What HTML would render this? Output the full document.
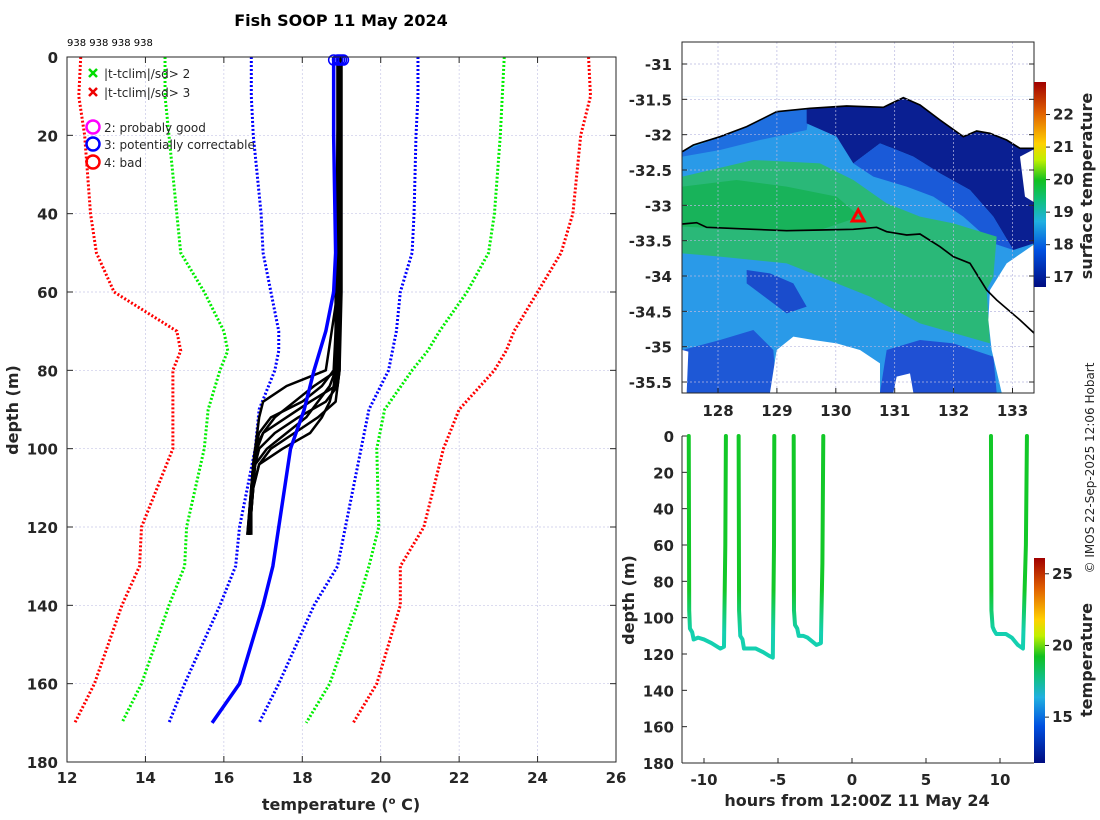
<!DOCTYPE html>
<html><head><meta charset="utf-8">
<style>
html,body{margin:0;padding:0;background:#fff;}
svg{display:block;font-family:"DejaVu Sans","Liberation Sans",sans-serif;}
.tk{font-size:15px;font-weight:bold;fill:#262626;}
.lab{font-size:16px;font-weight:bold;fill:#262626;}
.leg{font-size:12px;fill:#262626;}
</style></head>
<body>
<svg id="fig" width="1100" height="820" viewBox="0 0 1100 820">
<defs>
  <linearGradient id="jet1" x1="0" y1="1" x2="0" y2="0">
    <stop offset="0" stop-color="#000c80"/><stop offset="0.18" stop-color="#0050e0"/>
    <stop offset="0.32" stop-color="#20b0e0"/><stop offset="0.42" stop-color="#10c080"/>
    <stop offset="0.52" stop-color="#10c020"/><stop offset="0.62" stop-color="#c0f000"/>
    <stop offset="0.70" stop-color="#ffd000"/><stop offset="0.85" stop-color="#e06000"/>
    <stop offset="1" stop-color="#a00000"/>
  </linearGradient>
  <clipPath id="mapclip"><rect x="682" y="42" width="352" height="351"/></clipPath>
  <clipPath id="leftclip"><rect x="67" y="57" width="549" height="705"/></clipPath>
</defs>

<text x="341" y="26" text-anchor="middle" style="font-size:16px;font-weight:bold">Fish SOOP 11 May 2024</text>
<text x="67" y="46" style="font-size:10px">938 938 938 938</text>

<g id="left"></g>

<g id="map">
  <g clip-path="url(#mapclip)">
    <g transform="translate(620,30) scale(0.33333)">
      <rect x="187" y="200" width="1060" height="900" fill="#2a9ae8"/>
      <polygon fill="#1f6fe0" points="187,365 300,320 470,245 570,235 560,300 420,330 300,360 187,380"/>
      <polygon fill="#1e58d6" points="187,960 300,930 400,900 460,960 470,1088 187,1088"/>
      <polygon fill="#1a4ccc" points="380,720 450,730 520,760 560,830 500,850 420,790 380,760"/>
      <polygon fill="#1f50d4" points="780,1088 800,960 900,930 1000,940 1120,980 1130,1088"/>
      <polygon fill="#0a1f92" points="560,235 680,228 790,232 850,203 900,225 960,270 1030,320 1070,303 1110,310 1160,330 1200,355 1243,355 1243,640 1180,660 1120,560 1050,480 960,430 880,380 780,340 700,400 650,320 560,280"/>
      <polygon fill="#1a5ad8" points="700,400 780,340 880,380 960,430 1050,480 1120,560 1180,660 1120,640 1030,560 940,500 860,470 760,440"/>
      <polygon fill="#2ab878" points="187,440 400,390 600,400 700,450 800,520 900,560 1000,580 1130,620 1120,740 1100,780 1110,940 900,880 750,800 600,740 500,700 300,680 187,670"/>
      <polygon fill="#18b35a" points="187,470 350,450 500,470 650,500 720,560 600,600 400,600 187,590"/>
      <polygon fill="#fff" points="187,200 1247,200 1247,355 1200,355 1160,330 1110,310 1070,303 1030,320 960,270 900,225 850,203 790,232 680,228 570,235 470,245 380,290 300,320 220,345 187,365"/>
      <polygon fill="#fff" points="1247,355 1200,380 1215,500 1247,520"/>
      <polygon fill="#fff" points="1247,640 1160,700 1110,780 1105,870 1115,960 1145,1088 1247,1088"/>
      <polygon fill="#fff" points="450,1088 470,960 520,920 580,930 650,940 720,960 780,1000 780,1088"/>
      <polygon fill="#fff" points="820,1088 830,1040 870,1030 880,1088"/>
      <polygon fill="#fff" points="187,960 205,965 200,1088 187,1088"/>
      <polyline fill="none" stroke="#000" stroke-width="5" points="187,365 220,345 300,320 380,290 470,245 570,235 680,228 790,232 850,203 900,225 960,270 1030,320 1070,303 1110,310 1160,330 1200,355 1243,355"/>
      <polyline fill="none" stroke="#000" stroke-width="5" points="187,582 230,578 260,592 400,598 500,602 600,600 700,598 770,592 800,605 860,615 900,612 960,650 1000,680 1050,700 1100,780 1130,810 1200,870 1243,910"/>
    </g>
  </g>
</g>

<g id="br"></g>

<text transform="translate(1094,468) rotate(-90)" text-anchor="middle" style="font-size:12px;fill:#262626">© IMOS 22-Sep-2025 12:06 Hobart</text>
</svg>

<script>
// ===== LEFT PANEL DATA =====
const depthTicks = [0,20,40,60,80,100,120,140,160,180];
const tempTicks = [12,14,16,18,20,22,24,26];
const climDepths = [0,10,20,40,50,60,70,75,80,90,100,120,130,140,160,170];
const redLeft   = [12.35,12.3,12.45,12.6,12.75,13.2,14.8,14.9,14.7,14.7,14.7,13.9,13.85,13.4,12.7,12.2];
const greenLeft = [14.5,14.5,14.6,14.8,14.9,15.5,16.0,16.1,15.9,15.6,15.5,15.05,15.0,14.6,13.9,13.4];
const blueLeft  = [16.7,16.7,16.75,16.95,17.0,17.2,17.4,17.4,17.3,16.9,16.8,16.4,16.3,15.9,15.0,14.6];
const blueRight = [20.95,20.95,20.9,20.85,20.8,20.5,20.4,20.3,20.2,19.7,19.5,19.1,18.9,18.3,17.4,16.9];
const greenRight= [23.15,23.1,23.05,22.9,22.75,22.2,21.5,21.2,20.8,20.1,19.9,19.95,19.7,19.4,18.7,18.1];
const redRight  = [25.3,25.35,25.1,24.9,24.6,24.0,23.4,23.2,22.9,22.0,21.6,21.1,20.5,20.5,19.9,19.3];
const blueProfDepths = [0,20,50,60,70,80,90,100,110,120,130,140,150,160,170];
const blueProfTemps  = [18.8,18.8,18.85,18.8,18.6,18.3,18.05,17.7,17.55,17.4,17.25,17.0,16.7,16.4,15.7];
const blackDepths = [0,20,60,80,84,88,92,96,100,104,110,116,122];
const blackProfiles = [
  [19.0,18.95,18.95,18.9,18.85,18.2,17.6,17.0,16.8,16.75,16.7,16.65,16.65],
  [18.95,18.9,18.9,18.9,18.3,17.8,17.3,17.0,16.85,16.8,16.7,16.65,16.6],
  [19.0,18.95,18.95,18.95,18.9,18.85,18.4,17.8,17.2,16.9,16.75,16.7,16.65],
  [18.9,18.9,18.9,18.6,17.6,17.0,16.9,16.85,16.8,16.75,16.7,16.7,16.65],
  [19.0,19.0,19.0,18.95,18.9,18.6,17.9,17.3,16.9,16.8,16.75,16.7,16.7],
  [18.95,18.95,18.9,18.8,18.5,18.0,17.2,16.9,16.8,16.75,16.7,16.65,16.6],
  [19.0,18.95,18.9,18.85,18.7,18.4,18.1,17.6,17.1,16.8,16.7,16.7,16.65],
  [18.9,18.9,18.85,18.85,18.8,18.7,18.5,18.2,17.5,16.9,16.75,16.7,16.65]
];
// ===== MAP DATA =====
const lonTicks = [128,129,130,131,132,133];
const latTicks = [-31,-31.5,-32,-32.5,-33,-33.5,-34,-34.5,-35,-35.5];
const sstTicks = [17,18,19,20,21,22];
const shipLon = [130.38];
const shipLat = [-33.15];
// ===== DEPTH-TIME DATA =====
const hourTicks = [-10,-5,0,5,10];
const depthTicks2 = [0,20,40,60,80,100,120,140,160,180];
const tempTicks2 = [15,20,25];
const castHours = [
  [-11.03,-11.0,-10.95,-10.8,-10.7,-10.4,-10.0,-9.5,-8.9,-8.65,-8.56,-8.52],
  [-7.66,-7.63,-7.55,-7.4,-7.3,-7.0,-6.5,-6.0,-5.6,-5.35,-5.27,-5.25],
  [-3.94,-3.92,-3.85,-3.7,-3.6,-3.3,-3.0,-2.7,-2.4,-2.1,-2.0,-1.94],
  [9.39,9.42,9.5,9.6,9.75,10.0,10.4,10.8,11.2,11.55,11.75,11.82]
];
const castDepths = [
  [0,96,106,108,112,111,112,114,117,116,60,0],
  [0,96,110,112,117,117,117,119,121,122,60,0],
  [0,96,104,106,110,110,111,113,115,114,70,0],
  [0,96,105,107,109,109,109,111,115,117,60,0]
];

const NS='http://www.w3.org/2000/svg';
function mk(tag, attrs, parent){const e=document.createElementNS(NS,tag);for(const k in attrs)e.setAttribute(k,attrs[k]);parent.appendChild(e);return e;}

// ===== LEFT PANEL =====
const L=document.getElementById('left');
const lx=t=>67+(t-12)*(549/14);
const ly=d=>57+d*(705/180);
mk('rect',{x:67,y:57,width:549,height:705,fill:'#fff'},L);
tempTicks.forEach(t=>{
  const g=mk('line',{x1:lx(t),x2:lx(t),y1:57,y2:762,stroke:'#c8c8e8','stroke-width':0.7,'stroke-dasharray':'2 2'},L);
  
  
  const tx=mk('text',{x:lx(t),y:783,'text-anchor':'middle',class:'tk'},L);tx.textContent=t;
  
  
  mk('line',{x1:lx(t),x2:lx(t),y1:762,y2:756,stroke:'#262626'},L);
  mk('line',{x1:lx(t),x2:lx(t),y1:57,y2:63,stroke:'#262626'},L);
});
depthTicks.forEach(d=>{
  const g=mk('line',{x1:67,x2:616,y1:ly(d),y2:ly(d),stroke:'#c8c8e8','stroke-width':0.7,'stroke-dasharray':'2 2'},L);
  
  
  const tx=mk('text',{x:58,y:ly(d)+6,'text-anchor':'end',class:'tk'},L);tx.textContent=d;
  
  
  mk('line',{x1:67,x2:73,y1:ly(d),y2:ly(d),stroke:'#262626'},L);
  mk('line',{x1:616,x2:610,y1:ly(d),y2:ly(d),stroke:'#262626'},L);
});
const LC=mk('g',{'clip-path':'url(#leftclip)'},L);
function climLine(arr,color,name){
  const p=mk('polyline',{points:arr.map((t,i)=>lx(t)+','+ly(climDepths[i])).join(' '),fill:'none',stroke:color,'stroke-width':3,'stroke-dasharray':'2 2'},LC);
  
  
}
climLine(redLeft,'#ff0000','clim-3sd-low');
climLine(greenLeft,'#00ee00','clim-2sd-low');
climLine(blueLeft,'#0000ff','clim-1sd-low');
climLine(blueRight,'#0000ff','clim-1sd-high');
climLine(greenRight,'#00ee00','clim-2sd-high');
climLine(redRight,'#ff0000','clim-3sd-high');
blackProfiles.forEach((pr,k)=>{
  const p=mk('polyline',{points:pr.map((t,i)=>lx(t)+','+ly(blackDepths[i])).join(' '),fill:'none',stroke:'#000','stroke-width':2.5,'stroke-linejoin':'round'},LC);
  
  
});
const bp=mk('polyline',{points:blueProfTemps.map((t,i)=>lx(t)+','+ly(blueProfDepths[i])).join(' '),fill:'none',stroke:'#0000ff','stroke-width':3.5,'stroke-linejoin':'round'},LC);


[18.8,18.9,18.95,19.0,19.05].forEach(t=>{
  const c=mk('circle',{cx:lx(t),cy:ly(0)+3,r:5,fill:'none',stroke:'#0000ff','stroke-width':1.5},L);
  
  
});
mk('rect',{x:67,y:57,width:549,height:705,fill:'none',stroke:'#262626','stroke-width':1},L);
const xl=mk('text',{x:341,y:810,'text-anchor':'middle',class:'lab'},L);
xl.innerHTML='temperature (<tspan dy="-6" font-size="10">o</tspan><tspan dy="6"> C)</tspan>';


const yl=mk('text',{transform:'translate(18,410) rotate(-90)','text-anchor':'middle',class:'lab'},L);yl.textContent='depth (m)';


const legItems=[['x','#00dd00',74,'|t-tclim|/sd> 2'],['x','#ee0000',93,'|t-tclim|/sd> 3'],['o','#ff00ff',128,'2: probably good'],['o','#0000ff',145,'3: potentially correctable'],['o','#ff0000',163,'4: bad']];
legItems.forEach(it=>{
  const g=mk('g',{},L);
  
  
  if(it[0]==='x'){
    mk('path',{d:`M89 ${it[2]-5}l8 8M97 ${it[2]-5}l-8 8`,stroke:it[1],'stroke-width':2.5},g);
  }else{
    mk('circle',{cx:93,cy:it[2]-1,r:6.5,fill:'none',stroke:it[1],'stroke-width':2.5},g);
  }
  const t=mk('text',{x:104,y:it[2]+4,class:'leg'},g);t.textContent=it[3];
});

// ===== MAP =====
const M=document.getElementById('map');
const mx=lon=>718+(lon-128)*58.9;
const my=lat=>64+(-31-lat)*70.67;
lonTicks.forEach(v=>{
  mk('line',{x1:mx(v),x2:mx(v),y1:42,y2:393,stroke:'#b8b8e0','stroke-width':0.7,'stroke-dasharray':'2 2'},M);
  mk('line',{x1:mx(v),x2:mx(v),y1:393,y2:388,stroke:'#262626'},M);
  const t=mk('text',{x:mx(v),y:416,'text-anchor':'middle',class:'tk'},M);t.textContent=v;
  
  
});
latTicks.forEach(v=>{
  mk('line',{x1:682,x2:1034,y1:my(v),y2:my(v),stroke:'#b8b8e0','stroke-width':0.7,'stroke-dasharray':'2 2'},M);
  mk('line',{x1:682,x2:687,y1:my(v),y2:my(v),stroke:'#262626'},M);
  mk('line',{x1:1034,x2:1029,y1:my(v),y2:my(v),stroke:'#262626'},M);
  const t=mk('text',{x:672,y:my(v)+6,'text-anchor':'end',class:'tk'},M);t.textContent=v;
  
  
});
shipLon.forEach((lo,i)=>{
  const x=mx(lo),y=my(shipLat[i]);
  const tr=mk('path',{d:`M${x} ${y-6}L${x+6} ${y+5}L${x-6} ${y+5}Z`,fill:'none',stroke:'#ff0000','stroke-width':3},M);
  
  
});
mk('rect',{x:682,y:42,width:352,height:351,fill:'none',stroke:'#262626','stroke-width':1},M);
const smin=16.7,smax=23.0,cb1top=82,cb1bot=287;
const sy=v=>cb1bot-(v-smin)/(smax-smin)*(cb1bot-cb1top);
const cb1=mk('rect',{x:1034,y:cb1top,width:12,height:cb1bot-cb1top,fill:'url(#jet1)'},M);


sstTicks.forEach(v=>{
  mk('line',{x1:1046,x2:1050,y1:sy(v),y2:sy(v),stroke:'#262626'},M);
  const t=mk('text',{x:1053,y:sy(v)+5,class:'tk'},M);t.textContent=v;
  
  
});
const st=mk('text',{transform:'translate(1092,186) rotate(-90)','text-anchor':'middle',class:'lab'},M);st.textContent='surface temperature';



// ===== DEPTH-TIME =====
const B=document.getElementById('br');
const hx=h=>852+h*14.8;
const hy=d=>436+d*(327/180);
const defs=document.querySelector('defs');
const gr=mk('linearGradient',{id:'castgrad',gradientUnits:'userSpaceOnUse',x1:0,y1:hy(85),x2:0,y2:hy(108)},defs);
mk('stop',{offset:0,'stop-color':'#12c828'},gr);
mk('stop',{offset:1,'stop-color':'#14d0b0'},gr);
mk('line',{x1:682,x2:682,y1:436,y2:763,stroke:'#262626'},B);
mk('line',{x1:682,x2:1034,y1:763,y2:763,stroke:'#262626'},B);
hourTicks.forEach(v=>{
  mk('line',{x1:hx(v),x2:hx(v),y1:763,y2:758,stroke:'#262626'},B);
  const t=mk('text',{x:hx(v),y:785,'text-anchor':'middle',class:'tk'},B);t.textContent=v;
  
  
});
depthTicks2.forEach(v=>{
  mk('line',{x1:682,x2:687,y1:hy(v),y2:hy(v),stroke:'#262626'},B);
  const t=mk('text',{x:674,y:hy(v)+6,'text-anchor':'end',class:'tk'},B);t.textContent=v;
  
  
});
castHours.forEach((hs,k)=>{
  const p=mk('polyline',{points:hs.map((h,i)=>hx(h)+','+hy(castDepths[k][i])).join(' '),fill:'none',stroke:'url(#castgrad)','stroke-width':4,'stroke-linejoin':'round','stroke-linecap':'round'},B);
  
  
});
const tmin=11.8,tmax=26.1,cb2top=558,cb2bot=763;
const ty=v=>cb2bot-(v-tmin)/(tmax-tmin)*(cb2bot-cb2top);
const cb2=mk('rect',{x:1034,y:cb2top,width:11,height:cb2bot-cb2top,fill:'url(#jet1)'},B);


tempTicks2.forEach(v=>{
  mk('line',{x1:1045,x2:1049,y1:ty(v),y2:ty(v),stroke:'#262626'},B);
  const t=mk('text',{x:1052,y:ty(v)+5,class:'tk'},B);t.textContent=v;
  
  
});
const tt=mk('text',{transform:'translate(1092,660) rotate(-90)','text-anchor':'middle',class:'lab'},B);tt.textContent='temperature';


const hxl=mk('text',{x:857,y:806,'text-anchor':'middle',class:'lab'},B);hxl.textContent='hours from 12:00Z 11 May 24';


const dyl=mk('text',{transform:'translate(634,600) rotate(-90)','text-anchor':'middle',class:'lab'},B);dyl.textContent='depth (m)';


</script>
</body></html>
